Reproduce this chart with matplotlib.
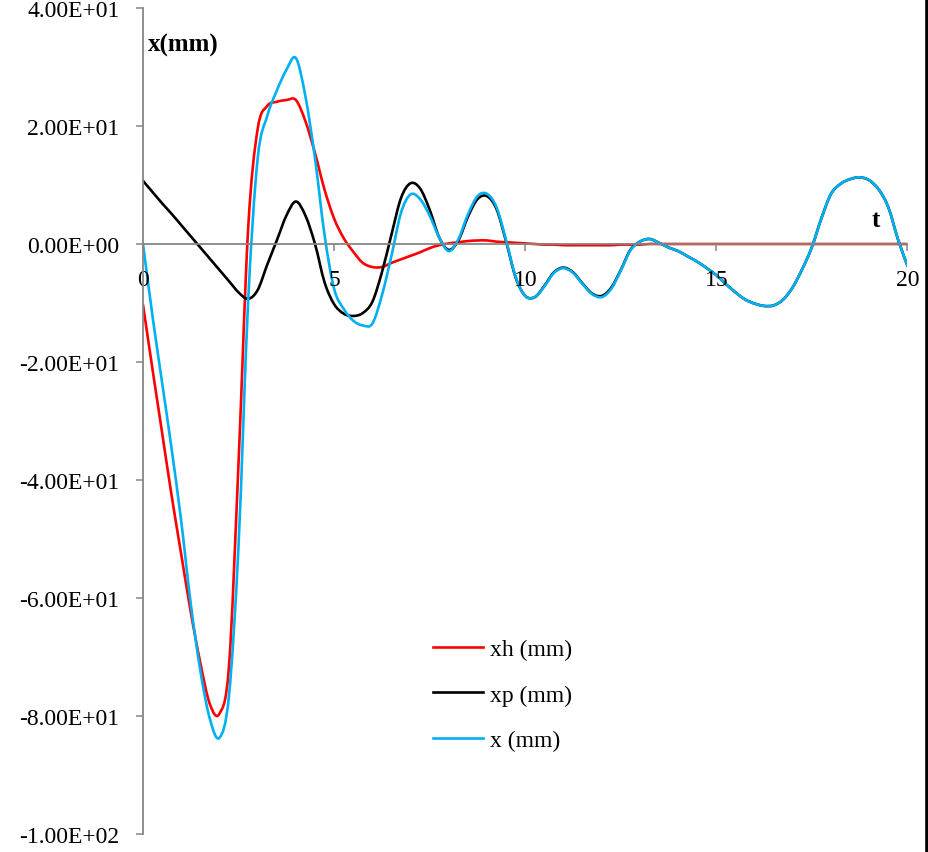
import matplotlib
matplotlib.use("Agg")
import numpy as np
import matplotlib.pyplot as plt
from matplotlib.ticker import FuncFormatter
from matplotlib.lines import Line2D
from matplotlib.path import Path
from matplotlib.patches import PathPatch

# time samples (step 0.25)
t = [i * 0.25 for i in range(81)]

# xh (mm) - red
xh = [-10.3, -21.3, -32.0, -42.7, -52.6, -62.4, -71.0, -78.0, -79.6, -71.5,
      -37.0, 2.5, 19.5, 23.4, 24.1, 24.4, 24.4, 20.8, 15.4, 9.2,
      4.3, 1.0, -1.3, -3.2, -3.9, -3.9, -3.2, -2.6, -2.0, -1.4,
      -0.7, -0.2, 0.1, 0.3, 0.5, 0.6, 0.6, 0.4, 0.3, 0.2,
      0.1, 0.0, -0.1, -0.1, -0.2, -0.2, -0.2, -0.2, -0.2, -0.2,
      -0.1, -0.1, -0.1, 0.0, 0.0, 0.0, 0.0, 0.0, 0.0, 0.0,
      0.0, 0.0, 0.0, 0.0, 0.0, 0.0, 0.0, 0.0, 0.0, 0.0,
      0.0, 0.0, 0.0, 0.0, 0.0, 0.0, 0.0, 0.0, 0.0, 0.0,
      0.0]

# xp (mm) - black
xp = [10.7, 8.8, 6.9, 5.1, 3.2, 1.3, -0.6, -2.5, -4.4, -6.3,
      -8.2, -9.3, -7.8, -3.5, 0.6, 4.8, 7.2, 4.8, 0.0, -6.5,
      -10.2, -11.8, -12.2, -11.7, -9.8, -4.8, 1.6, 7.8, 10.3, 9.4,
      5.8, 1.1, -1.0, 0.6, 4.6, 7.6, 8.1, 5.9, 0.4, -5.7,
      -8.8, -9.0, -7.1, -4.8, -4.0, -4.8, -6.7, -8.4, -8.8, -7.4,
      -4.4, -1.0, 0.4, 0.85, 0.2, -0.6, -1.2, -2.1, -3.0, -4.1,
      -5.3, -6.8, -8.2, -9.4, -10.1, -10.5, -10.4, -9.4, -7.3, -4.2,
      -0.5, 4.4, 8.5, 10.2, 11.0, 11.3, 10.8, 9.2, 6.2, 0.8,
      -3.7]

# x (mm) - light blue
x = [0.0, -12.3, -23.5, -34.8, -47.0, -61.0, -72.3, -80.5, -83.7, -76.5,
     -51.0, -9.8, 14.5, 21.7, 26.0, 29.5, 31.5, 25.0, 14.5, 1.5,
     -7.6, -11.0, -13.0, -13.8, -13.5, -8.7, -2.0, 5.3, 8.4, 7.6,
     4.8, 1.1, -1.2, 0.8, 5.0, 8.1, 8.5, 6.2, 0.6, -5.6,
     -8.8, -9.0, -7.2, -4.9, -4.1, -4.9, -6.8, -8.5, -9.0, -7.6,
     -4.5, -1.1, 0.4, 0.85, 0.2, -0.6, -1.2, -2.1, -3.0, -4.1,
     -5.3, -6.8, -8.2, -9.4, -10.1, -10.5, -10.4, -9.4, -7.3, -4.2,
     -0.5, 4.4, 8.5, 10.2, 11.0, 11.3, 10.8, 9.2, 6.2, 0.8,
     -3.7]

series = [('xh (mm)', xh, '#FF0000'), ('xp (mm)', xp, '#000000'), ('x (mm)', x, '#00B0F0')]
yticks = [-100, -80, -60, -40, -20, 0, 20, 40]
xticks = [0, 5, 10, 15, 20]


def smooth_path(xs, ys):
    # Excel-style "smoothed line": bezier segments through the data points
    p = np.column_stack([xs, ys])
    ext = np.vstack([p[0], p, p[-1]])
    verts = [p[0]]
    codes = [Path.MOVETO]
    for i in range(len(p) - 1):
        c1 = p[i] + (ext[i + 2] - ext[i]) / 6
        c2 = p[i + 1] - (ext[i + 3] - ext[i + 1]) / 6
        verts += [c1, c2, p[i + 1]]
        codes += [Path.CURVE4] * 3
    return Path(verts, codes)


plt.rcParams['font.family'] = ['Liberation Serif', 'DejaVu Serif']

fig = plt.figure(figsize=(9.29, 8.53), dpi=100)
ax = fig.add_axes([143 / 929, 18 / 853, 764.5 / 929, 826 / 853])

gray = '#868686'
handles = []
for name, ys, col in series:
    ax.add_patch(PathPatch(smooth_path(t, ys), fill=False, edgecolor=col, lw=1.9,
                           capstyle='round', joinstyle='round'))
    handles.append(Line2D([], [], color=col, lw=1.9, label=name))

ax.set_xlim(0, 20)
ax.set_ylim(-100, 40)
ax.set_xticks(xticks)
ax.set_yticks(yticks)
ax.yaxis.set_major_formatter(FuncFormatter(lambda v, p: format(v, '.2E')))

ax.spines['top'].set_visible(False)
ax.spines['right'].set_visible(False)
ax.spines['bottom'].set_position(('data', 0))
for s in ['left', 'bottom']:
    ax.spines[s].set_color(gray)
    ax.spines[s].set_linewidth(1.3)
ax.tick_params(axis='both', colors=gray, direction='out', length=5, width=1.1,
               labelsize=17, labelcolor='black')
ax.tick_params(axis='y', pad=12)
ax.tick_params(axis='x', pad=13)

ax.text(0.13, 33.9, 'x(mm)', fontsize=18, fontweight='bold', va='center', ha='left')
ax.text(19.16, 4.2, 't', fontsize=18, fontweight='bold', va='center', ha='center')

ax.legend(handles=handles, loc='upper left', bbox_to_anchor=(433 / 929, 1 - 640 / 853),
          bbox_transform=fig.transFigure, frameon=False, fontsize=17,
          handlelength=2.1, handletextpad=0.3, labelspacing=1.0, borderpad=0,
          borderaxespad=0)

# dark border at the right edge of the picture
fig.add_artist(Line2D([927.3 / 929, 927.3 / 929], [0, 1], color='black', lw=2.6,
                      transform=fig.transFigure))

fig.savefig('out.png', dpi=100)
